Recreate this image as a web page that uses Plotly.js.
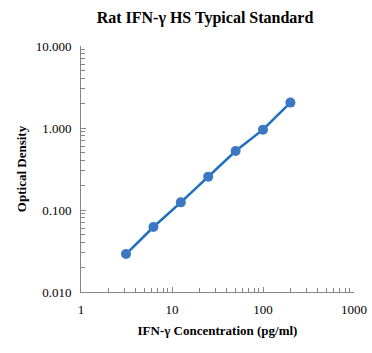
<!DOCTYPE html>
<html><head><meta charset="utf-8">
<script src="https://cdn.plot.ly/plotly-3.0.1.min.js"></script>
<style>html,body{margin:0;padding:0;background:#fff}#c{width:372px;height:353px}</style>
</head><body><div id="c"></div>
<script>
var concentration = [3.125, 6.25, 12.5, 25, 50, 100, 200];
var opticalDensity = [0.029, 0.062, 0.124, 0.255, 0.524, 0.955, 2.04];
var yTickVals = [0.01, 0.1, 1, 10];
var yTickText = ['0.010', '0.100', '1.000', '10.000'];
var xTickVals = [1, 10, 100, 1000];
var xTickText = ['1', '10', '100', '1000'];

var font = 'Liberation Serif, Times New Roman, serif';
Plotly.newPlot('c', [{
  x: concentration, y: opticalDensity, type: 'scatter', mode: 'lines+markers',
  line: {color: '#1f6fc0', width: 2.5},
  marker: {color: '#3a78c2', size: 10},
  cliponaxis: false, hoverinfo: 'none'
}], {
  width: 372, height: 353,
  margin: {l: 81, r: 18, t: 46, b: 61},
  paper_bgcolor: '#fff', plot_bgcolor: '#fff',
  showlegend: false,
  font: {family: font, color: '#000'},
  title: {text: '<b>Rat IFN-γ HS Typical Standard</b>', font: {family: font, size: 16, color: '#000'},
    x: 205/372, xref: 'container', xanchor: 'center', y: 1 - 17/353, yref: 'container', yanchor: 'middle'},
  xaxis: {type: 'log', range: [0, 3], showgrid: false, zeroline: false,
    showline: true, linecolor: '#868686', linewidth: 1,
    ticks: 'inside', ticklen: 5, tickcolor: '#868686',
    ticklabelstandoff: 5,
    tickvals: xTickVals, ticktext: xTickText, tickfont: {family: font, size: 13, color: '#000'},
    minor: {ticks: 'inside', ticklen: 4, tickcolor: '#868686', dtick: 'D1', showgrid: false},
    title: {text: '<b>IFN-γ Concentration (pg/ml)</b>', font: {family: font, size: 13, color: '#000'}, standoff: 10}
  },
  yaxis: {type: 'log', range: [-2, 1], showgrid: false, zeroline: false,
    showline: true, linecolor: '#868686', linewidth: 1,
    ticks: 'inside', ticklen: 5, tickcolor: '#868686',
    ticklabelstandoff: 6,
    tickvals: yTickVals, ticktext: yTickText, tickfont: {family: font, size: 13, color: '#000'},
    minor: {ticks: 'inside', ticklen: 4, tickcolor: '#868686', dtick: 'D1', showgrid: false},
    title: {text: '<b>Optical Density</b>', font: {family: font, size: 13, color: '#000'}, standoff: 6}
  }
}, {staticPlot: true});
</script></body></html>
